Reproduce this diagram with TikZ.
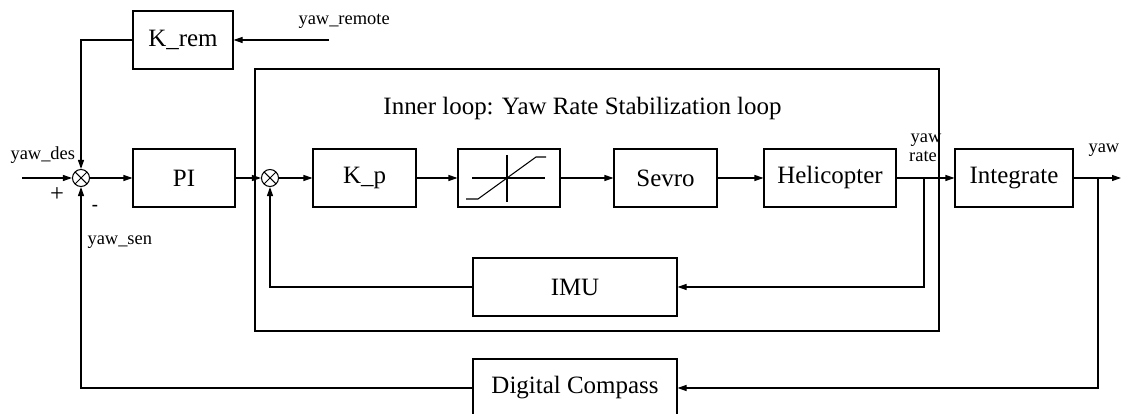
\documentclass[tikz,border=0pt]{standalone}
\usepackage{fontspec}
\setmainfont{Liberation Serif}
\usetikzlibrary{arrows.meta}
\begin{document}
\begin{tikzpicture}[x=0.2cm,y=0.2cm,line width=0.6pt]
                      \tikzstyle{every node}+=[inner sep=0pt]
                      \tikzstyle{block}=[draw=black, minimum height=1.16cm, font=\fontsize{14.2}{17}\selectfont]
                      \tikzstyle{sumnode}=[draw=black, circle, minimum size=0.34cm, path picture={\draw (path picture bounding box.north west) -- (path picture bounding box.south east) (path picture bounding box.north east) -- (path picture bounding box.south west);}]
                      \tikzstyle{lbl}=[font=\fontsize{10.5}{12}\selectfont]
                      \tikzstyle{sig}=[-{Triangle[length=1.8mm,width=1.2mm]}]
                      \useasboundingbox (0,0) rectangle (112.2,-41.4);
                      \draw [black] (25.5,-6.9) rectangle (93.9,-33.1);
                      \node [anchor=base, font=\fontsize{14.2}{17}\selectfont] (title) at (58.25,-11.5) {Inner loop: Yaw Rate Stabilization loop};
                      \node [block, minimum width=2cm] (krem) at (18.3,-4.0) {K\_rem};
                      \node [block, minimum width=2.04cm] (pi) at (18.4,-17.8) {PI};
                      \node [sumnode] (sumo) at (8.1,-17.8) {};
                      \node [sumnode] (sumi) at (27.0,-17.8) {};
                      \node [block, minimum width=2.06cm] (kp) at (36.45,-17.8) {K\_p};
                      \node [block, minimum width=2.04cm] (sat) at (50.9,-17.8) {};
                      \node [block, minimum width=2.06cm] (sevro) at (66.55,-17.8) {Sevro};
                      \node [block, minimum width=2.64cm] (heli) at (83.0,-17.8) {Helicopter};
                      \node [block, minimum width=2.36cm] (integ) at (101.4,-17.8) {Integrate};
                      \node [block, minimum width=4.08cm] (imu) at (57.5,-28.7) {IMU};
                      \node [block, minimum width=4.08cm] (compass) at (57.5,-38.8) {Digital Compass};
                      \draw [black] (sat.center) ++(-3.7,0) -- ++(7.3,0);
                      \draw [black] (sat.center) ++(-0.2,2.3) -- ++(0,-4.7);
                      \draw [black] (sat.center) ++(-4.3,-2.1) -- ++(1.2,0) -- ++(5.8,4.2) -- ++(1.0,0);
                      \node [lbl, anchor=base west] (remlbl) at (29.8,-2.5) {yaw\_remote};
                      \node [lbl, anchor=base west] (deslbl) at (1.0,-16.0) {yaw\_des};
                      \node [font=\fontsize{14}{16}\selectfont] (plus) at (5.7,-19.5) {+};
                      \node [lbl, font=\fontsize{10.5}{12}\selectfont\bfseries] (minus) at (9.5,-20.8) {-};
                      \node [lbl, anchor=base west] (senlbl) at (8.7,-24.5) {yaw\_sen};
                      \node [lbl, anchor=base] (ratelbla) at (92.6,-14.3) {yaw};
                      \node [lbl, anchor=base] (ratelblb) at (92.3,-16.2) {rate};
                      \node [lbl, anchor=base west] (yawlbl) at (108.8,-15.3) {yaw};
                      \coordinate (remin) at (32.9,-4.0);
                      \coordinate (desin) at (2.2,-17.8);
                      \coordinate (ratetap) at (92.4,-17.8);
                      \coordinate (yawtap) at (109.8,-17.8);
                      \coordinate (yawout) at (112.1,-17.8);
                      \draw [sig] (remin) -- (krem.east);
                      \draw [sig] (krem.west) -| (sumo.north);
                      \draw [sig] (desin) -- (sumo.west);
                      \draw [sig] (sumo) -- (pi);
                      \draw [sig] (pi) -- (sumi);
                      \draw [sig] (sumi) -- (kp);
                      \draw [sig] (kp) -- (sat);
                      \draw [sig] (sat) -- (sevro);
                      \draw [sig] (sevro) -- (heli);
                      \draw [sig] (heli) -- (integ);
                      \draw [sig] (integ) -- (yawout);
                      \draw [sig] (ratetap) |- (imu.east);
                      \draw [sig] (imu.west) -| (sumi.south);
                      \draw [sig] (yawtap) |- (compass.east);
                      \draw [sig] (compass.west) -| (sumo.south);
                  \end{tikzpicture}
\end{document}
